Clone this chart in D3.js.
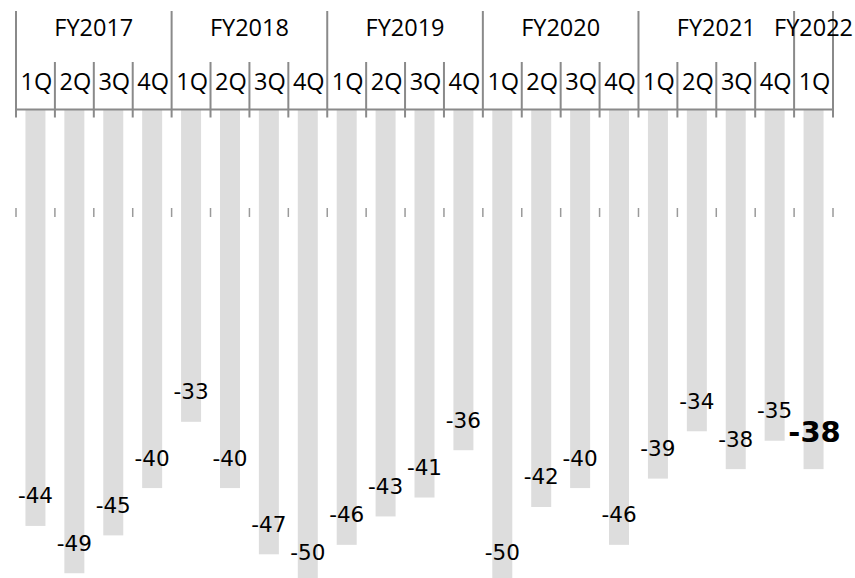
<!DOCTYPE html>
<html><head><meta charset="utf-8">
<script src="https://cdn.jsdelivr.net/npm/d3@7"></script>
<style>
html,body{margin:0;padding:0;background:#fff;overflow:hidden}
svg{display:block}
</style>
</head><body>
<script>
const years = ["FY2017","FY2018","FY2019","FY2020","FY2021","FY2022"];
const quartersPerYear = [4,4,4,4,4,1];
const quarterLabels = ["1Q","2Q","3Q","4Q","1Q","2Q","3Q","4Q","1Q","2Q","3Q","4Q","1Q","2Q","3Q","4Q","1Q","2Q","3Q","4Q","1Q"];
const values = [-44,-49,-45,-40,-33,-40,-47,-50,-46,-43,-41,-36,-50,-42,-40,-46,-39,-34,-38,-35,-38];

const W = 855, H = 578;
const left = 16, right = 833, axisY = 109.5;
const svg = d3.select("body").append("svg").attr("width", W).attr("height", H);

const idx = values.map((d,i)=>i);
const x = d3.scaleBand().domain(idx).range([left,right]).paddingInner(0.486).paddingOuter(0.243);
const xb = d3.scaleBand().domain(idx).range([left,right]).padding(0);
const y = d3.scaleLinear().domain([0,-50]).range([axisY, 582.7]);

// bars
svg.append("g").selectAll("rect").data(values).join("rect")
  .attr("x",(d,i)=>x(i)).attr("width",x.bandwidth())
  .attr("y",y(0)).attr("height",d=>y(d)-y(0))
  .attr("fill","#dddddd");

// boundaries
const bounds = idx.map(i=>xb(i)).concat([xb(idx.length-1)+xb.bandwidth()]);
const yearStarts = new Set();
let acc = 0;
quartersPerYear.forEach(q=>{ yearStarts.add(acc); acc += q; });
yearStarts.add(acc);

const axisColor = "#8a8a8a";
const g = svg.append("g");
g.selectAll("line.sep").data(bounds).join("line")
  .attr("class","sep")
  .attr("x1",d=>d).attr("x2",d=>d)
  .attr("y1",(d,i)=>yearStarts.has(i)?11:62)
  .attr("y2",117.5)
  .attr("stroke",axisColor).attr("stroke-width",2);
g.append("line").attr("x1",left).attr("x2",right).attr("y1",axisY).attr("y2",axisY)
  .attr("stroke",axisColor).attr("stroke-width",2.2);

// second row of minor ticks
g.selectAll("line.minor").data(bounds).join("line")
  .attr("class","minor")
  .attr("x1",d=>d).attr("x2",d=>d).attr("y1",208).attr("y2",217)
  .attr("stroke","#9a9a9a").attr("stroke-width",1.5);

// quarter labels
g.selectAll("text.q").data(quarterLabels).join("text")
  .attr("class","q")
  .attr("x",(d,i)=>xb(i)+xb.bandwidth()/2+1)
  .attr("y",89.5)
  .attr("text-anchor","middle")
  .attr("font-family","'Open Sans', 'Noto Sans', sans-serif")
  .attr("font-size",23.5).attr("fill","#000")
  .text(d=>d);

// year labels
let start = 0;
const yearPos = years.map((yr,k)=>{ const s = start; start += quartersPerYear[k]; return {yr, s, e:start}; });
g.selectAll("text.yr").data(yearPos).join("text")
  .attr("class","yr")
  .attr("x",d=>(xb(d.s)+xb(d.e-1)+xb.bandwidth())/2)
  .attr("y",36)
  .attr("text-anchor","middle")
  .attr("font-family","'Open Sans', 'Noto Sans', sans-serif")
  .attr("font-size",23.5).attr("fill","#000")
  .text(d=>d.yr);

// value labels
const last = values.length-1;
svg.append("g").selectAll("text").data(values).join("text")
  .attr("x",(d,i)=>x(i)+x.bandwidth()/2 + (i===last?1:0))
  .attr("y",(d,i)=>y(d) - (i===last?27.3:22.5))
  .attr("text-anchor","middle")
  .attr("font-family","'DejaVu Sans', sans-serif")
  .attr("font-size",(d,i)=>i===last?29:21.5)
  .attr("font-weight",(d,i)=>i===last?"bold":"normal")
  .attr("fill","#000")
  .text(d=>String(d));
</script>
</body></html>
